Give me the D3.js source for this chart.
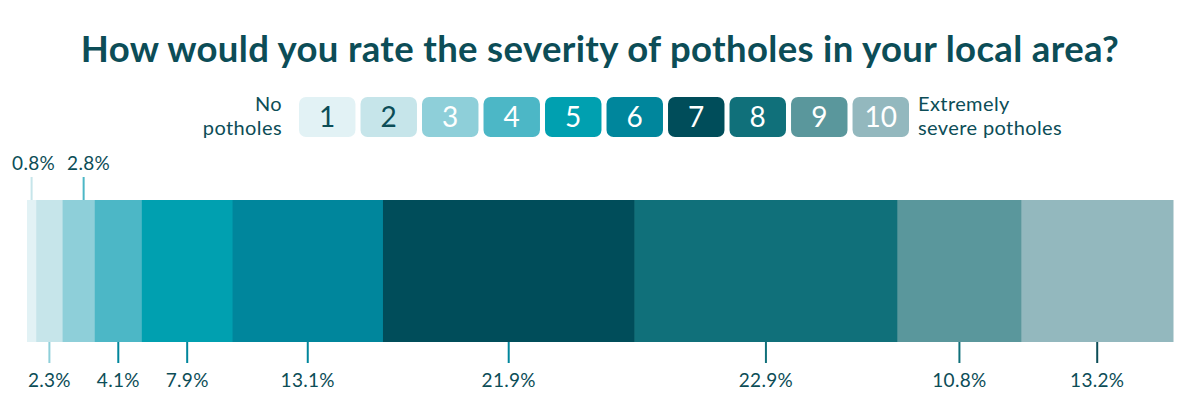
<!DOCTYPE html>
<html>
<head>
<meta charset="utf-8">
<script src="https://cdn.jsdelivr.net/npm/d3@7"></script>
<style>
  body { margin: 0; background: #fff; }
  svg { display: block; font-family: Lato, "Open Sans", sans-serif; }
</style>
</head>
<body>
<svg id="chart" width="1200" height="419"></svg>
<script>
'use strict';

const ratings = ['1', '2', '3', '4', '5', '6', '7', '8', '9', '10'];
const shares = [0.8, 2.3, 2.8, 4.1, 7.9, 13.1, 21.9, 22.9, 10.8, 13.2];
const labelsAbove = ['1', '3'];
const fills = ['#e2f2f5', '#c6e5ea', '#8ecfd9', '#4cb7c6', '#00a0b0', '#00869c', '#004d5a', '#10707a', '#5a979c', '#93b8be'];
const legendText = ['#0c4d57', '#0c4d57', '#fff', '#fff', '#fff', '#fff', '#fff', '#fff', '#fff', '#fff'];
const lineColors = ['#c6e5ea', '#8ecfd9', '#4cb7c6', '#00869c', '#00869c', '#00869c', '#00869c', '#10707a', '#10707a', '#0c4d57'];

const ink = '#0c4d57';
const svg = d3.select('#chart');

svg.append('text')
  .attr('x', 600).attr('y', 62)
  .attr('text-anchor', 'middle')
  .attr('font-size', 36.5).attr('font-weight', 700)
  .attr('letter-spacing', 0.35)
  .attr('fill', ink)
  .text('How would you rate the severity of potholes in your local area?');

// legend of rating boxes
const legendX = d3.scaleBand().domain(ratings).range([299, 909]).paddingInner(0.082);
const legend = svg.append('g');
const keys = legend.selectAll('g').data(ratings).join('g')
  .attr('transform', (d) => `translate(${legendX(d)},97)`);
keys.append('rect')
  .attr('width', legendX.bandwidth()).attr('height', 40)
  .attr('rx', 7)
  .attr('fill', (d, i) => fills[i]);
keys.append('text')
  .attr('x', legendX.bandwidth() / 2).attr('y', 30)
  .attr('text-anchor', 'middle')
  .attr('font-size', 28)
  .attr('fill', (d, i) => legendText[i])
  .text((d) => d);

const sideText = (x, anchor, lines) => {
  const t = svg.append('text').attr('text-anchor', anchor).attr('font-size', 20)
    .attr('letter-spacing', 0.4).attr('fill', ink);
  lines.forEach((s, i) => t.append('tspan').attr('x', x).attr('y', 111 + i * 24).text(s));
};
sideText(282, 'end', ['No', 'potholes']);
sideText(918, 'start', ['Extremely', 'severe potholes']);

// stacked bar
const total = d3.sum(shares);
const x = d3.scaleLinear().domain([0, total]).range([27, 1173]);
const starts = d3.cumsum([0].concat(shares)).slice(0, shares.length);
const rows = ratings.map((r, i) => ({ r, v: shares[i], s: starts[i], i }));

const barTop = 200;
const barBottom = 342;

svg.append('g').selectAll('rect').data(rows).join('rect')
  .attr('x', (d) => x(d.s))
  .attr('width', (d) => x(d.s + d.v) - x(d.s) + 0.5)
  .attr('y', barTop).attr('height', barBottom - barTop)
  .attr('fill', (d) => fills[d.i]);

const fmt = (v) => `${v.toFixed(1)}%`;
const mid = (d) => x(d.s + d.v / 2);

const above = rows.filter((d) => labelsAbove.includes(d.r));
const below = rows.filter((d) => !labelsAbove.includes(d.r));

// push crowded labels above the bar apart
const minGap = 55;
above.forEach((d, k) => {
  d.tx = k === 0 ? mid(d) + 2 : Math.max(mid(d), above[k - 1].tx + minGap);
  d.lx = k === 0 ? mid(d) : (mid(d) + d.tx) / 2;
});

const annot = svg.append('g');
annot.selectAll('line.up').data(above).join('line')
  .attr('x1', (d) => d.lx).attr('x2', (d) => d.lx)
  .attr('y1', 177).attr('y2', barTop)
  .attr('stroke', (d) => lineColors[d.i]).attr('stroke-width', 2);
annot.selectAll('text.up').data(above).join('text')
  .attr('x', (d) => d.tx).attr('y', 170)
  .attr('text-anchor', 'middle')
  .attr('font-size', 19).attr('letter-spacing', 0.3).attr('fill', ink)
  .text((d) => fmt(d.v));

annot.selectAll('line.down').data(below).join('line')
  .attr('x1', mid).attr('x2', mid)
  .attr('y1', barBottom).attr('y2', 363)
  .attr('stroke', (d) => lineColors[d.i]).attr('stroke-width', 2);
annot.selectAll('text.down').data(below).join('text')
  .attr('x', mid).attr('y', 387)
  .attr('text-anchor', 'middle')
  .attr('font-size', 19).attr('letter-spacing', 0.3).attr('fill', ink)
  .text((d) => fmt(d.v));
</script>
</body>
</html>
